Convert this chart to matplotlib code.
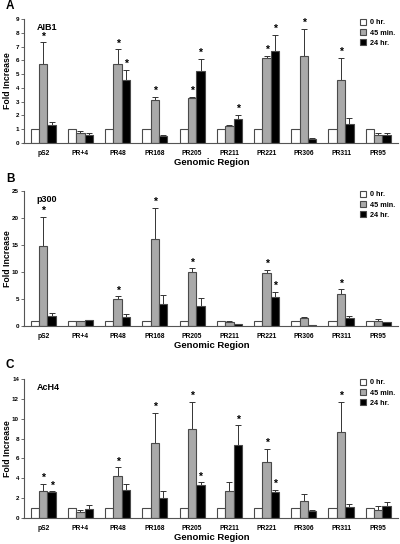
import matplotlib
matplotlib.use("Agg")
import matplotlib.pyplot as plt
import numpy as np

plt.rcParams['font.family'] = ['Liberation Sans', 'DejaVu Sans']
plt.rcParams['font.weight'] = 'bold'

regions = ["pS2", "PR+4", "PR48", "PR168", "PR205", "PR211", "PR221", "PR306", "PR311", "PR95"]
series_names = ["0 hr.", "45 min.", "24 hr."]

# Panel A: AIB1
aib1_0h = [1, 1, 1, 1, 1, 1, 1, 1, 1, 1]
aib1_45m = [5.7, 0.7, 5.7, 3.1, 3.3, 1.25, 6.2, 6.3, 4.6, 0.6]
aib1_24h = [1.3, 0.6, 4.6, 0.5, 5.2, 1.75, 6.65, 0.3, 1.4, 0.55]
aib1_45m_err = [1.6, 0.2, 1.1, 0.25, 0.05, 0.05, 0.15, 2.0, 1.6, 0.12]
aib1_24h_err = [0.2, 0.15, 0.7, 0.05, 0.9, 0.3, 1.2, 0.05, 0.45, 0.15]
aib1_star_45m = [1, 0, 1, 1, 1, 0, 1, 1, 1, 0]
aib1_star_24h = [0, 0, 1, 0, 1, 1, 1, 0, 0, 0]

# Panel B: p300
p300_0h = [1, 1, 1, 1, 1, 1, 1, 1, 1, 1]
p300_45m = [14.85, 0.9, 4.95, 16.1, 10.05, 0.8, 9.8, 1.5, 5.95, 0.95]
p300_24h = [1.9, 1.05, 1.7, 4.0, 3.75, 0.4, 5.3, 0.2, 1.55, 0.75]
p300_45m_err = [5.35, 0.1, 0.55, 5.8, 0.65, 0.1, 0.65, 0.1, 0.85, 0.3]
p300_24h_err = [0.45, 0.15, 0.5, 1.75, 1.45, 0.05, 1.0, 0.05, 0.35, 0.05]
p300_star_45m = [1, 0, 1, 1, 1, 0, 1, 0, 1, 0]
p300_star_24h = [0, 0, 0, 0, 0, 0, 1, 0, 0, 0]

# Panel C: AcH4
ach4_0h = [1, 1, 1, 1, 1, 1, 1, 1, 1, 1]
ach4_45m = [2.75, 0.6, 4.2, 7.55, 9.0, 2.75, 5.6, 1.7, 8.65, 0.85]
ach4_24h = [2.6, 0.95, 2.8, 2.0, 3.3, 7.35, 2.65, 0.7, 1.15, 1.2]
ach4_45m_err = [0.7, 0.2, 0.9, 3.05, 2.7, 0.9, 1.35, 0.75, 3.05, 0.35]
ach4_24h_err = [0.1, 0.4, 0.65, 0.75, 0.3, 2.0, 0.2, 0.1, 0.25, 0.4]
ach4_star_45m = [1, 0, 1, 1, 1, 0, 1, 0, 1, 0]
ach4_star_24h = [1, 0, 0, 0, 1, 1, 1, 0, 0, 0]

W, H = 400.0, 544.0


def rect(top_px, bottom_px, left_px=23.5, right_px=398.0):
    return [left_px / W, 1 - bottom_px / H, (right_px - left_px) / W, (bottom_px - top_px) / H]


panels = [
    dict(letter="A", letter_y=6, title="AIB1", ymax=9, step=1, top=19, bottom=143,
         v0=aib1_0h, v45=aib1_45m, v24=aib1_24h, e45=aib1_45m_err, e24=aib1_24h_err,
         s45=aib1_star_45m, s24=aib1_star_24h),
    dict(letter="B", letter_y=179, title="p300", ymax=25, step=5, top=191, bottom=326,
         v0=p300_0h, v45=p300_45m, v24=p300_24h, e45=p300_45m_err, e24=p300_24h_err,
         s45=p300_star_45m, s24=p300_star_24h),
    dict(letter="C", letter_y=365, title="AcH4", ymax=14, step=2, top=379, bottom=518,
         v0=ach4_0h, v45=ach4_45m, v24=ach4_24h, e45=ach4_45m_err, e24=ach4_24h_err,
         s45=ach4_star_45m, s24=ach4_star_24h),
]

fig = plt.figure(figsize=(4.0, 5.44), dpi=100)
x = np.arange(len(regions))
w = 0.225
edge = "#4a4a4a"
colors = ["white", "#a9a9a9", "black"]

for p in panels:
    ax = fig.add_axes(rect(p["top"], p["bottom"]))
    vals = [p["v0"], p["v45"], p["v24"]]
    errs = [None, p["e45"], p["e24"]]
    stars = [None, p["s45"], p["s24"]]
    handles = []
    for i in range(3):
        pos = x + (i - 1) * w
        b = ax.bar(pos, vals[i], width=w, color=colors[i], edgecolor=edge,
                   linewidth=0.8, label=series_names[i], zorder=2)
        handles.append(b)
        if errs[i] is not None:
            ax.errorbar(pos, vals[i], yerr=[np.zeros(len(x)), errs[i]], fmt="none",
                        ecolor="#333333", elinewidth=0.7, capsize=2.2, capthick=0.7, zorder=1)
            for j in range(len(x)):
                if stars[i][j]:
                    top = vals[i][j] + errs[i][j]
                    ax.annotate("*", (pos[j], top), xytext=(0, 0.5), textcoords="offset points",
                                ha="center", va="bottom", fontsize=7.5, fontweight="bold")
    ax.set_xlim(-0.53, len(x) - 0.47)
    ax.set_ylim(0, p["ymax"])
    ax.set_yticks(np.arange(0, p["ymax"] + 0.01, p["step"]))
    ax.set_xticks(x)
    ax.set_xticklabels(regions)
    for s in ["top", "right"]:
        ax.spines[s].set_visible(False)
    for s in ["left", "bottom"]:
        ax.spines[s].set_color("#555555")
        ax.spines[s].set_linewidth(0.8)
    ax.tick_params(axis="y", length=2, width=0.6, colors="#555555", labelsize=4.5,
                   labelcolor="black", pad=1.2)
    ax.tick_params(axis="x", length=0, labelsize=4.8, pad=5)
    mid_y = 1 - (p["top"] + p["bottom"]) / 2 / H
    fig.text(7 / W, mid_y, "Fold Increase", rotation=90, fontsize=6.3, fontweight="bold",
             ha="center", va="center")
    fig.text(0.53, 1 - (p["bottom"] + 20) / H, "Genomic Region", fontsize=6.8,
             fontweight="bold", ha="center", va="center")
    ax.text(0.035, 0.97, p["title"], transform=ax.transAxes, fontsize=6.5,
            fontweight="bold", va="top", ha="left")
    ax.legend(handles=handles, loc="upper left", bbox_to_anchor=(0.899, 1.0),
              frameon=False, fontsize=5.2, handlelength=0.85, handleheight=0.85,
              handletextpad=0.45, labelspacing=0.38, borderpad=0.0, borderaxespad=0.0)
    fig.text(6 / W, 1 - p["letter_y"] / H, p["letter"], fontsize=8.5, fontweight="bold",
             va="center", ha="left")

fig.savefig("out.png", dpi=100)
